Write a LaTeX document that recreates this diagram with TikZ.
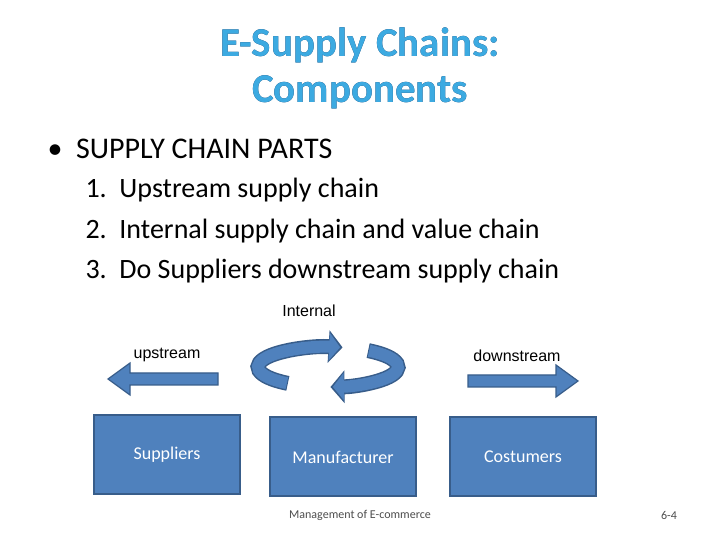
\documentclass[tikz,border=0pt]{standalone}
\usepackage{fontspec}
\setmainfont{Carlito}
\newfontfamily\arialfont{Liberation Sans}
\usepackage[outline]{contour}
\usetikzlibrary{positioning,arrows.meta}
\definecolor{boxblue}{RGB}{79,129,189}
\definecolor{boxline}{RGB}{56,93,138}
\definecolor{titleblue}{RGB}{60,170,225}
\definecolor{titleline}{RGB}{15,45,90}
\newcommand{\titletext}[1]{\contourlength{1.5pt}\fontsize{41}{48}\selectfont\bfseries\color{titleblue}\contour{titleline}{#1}}
\begin{document}
\begin{tikzpicture}
[x=1pt,y=1pt,
partbox/.style={rectangle, draw=boxline, line width=2pt, fill=boxblue, minimum width=146pt, minimum height=79pt, text=white, font=\fontsize{18}{21}\selectfont},
flowarrow/.style={draw=boxline, line width=1.2pt, fill=boxblue},
flowlabel/.style={font=\arialfont\fontsize{16}{18}\selectfont},
]
\useasboundingbox (0,0) rectangle (720,540);
% title
\node (title) at (360,495) {\titletext{E-Supply Chains:}};
\node (title2) at (360,448) {\titletext{Components}};
% bullet list
\node[anchor=west, font=\fontsize{30}{34}\selectfont] (parts) at (44,391) {\textbullet\ \ SUPPLY CHAIN PARTS};
\node[anchor=west, font=\fontsize{28}{32}\selectfont] (item1) at (82,350) {1.\ \ Upstream supply chain};
\node[anchor=west, font=\fontsize{28}{32}\selectfont] (item2) at (82,309) {2.\ \ Internal supply chain and value chain};
\node[anchor=west, font=\fontsize{28}{32}\selectfont] (item3) at (82,269) {3.\ \ Do Suppliers downstream supply chain};
% labels
\node[flowlabel] (internal) at (309,229) {Internal};
\node[flowlabel] (upstream) at (167,185) {upstream};
\node[flowlabel] (downstream) at (517,184) {downstream};
% flow arrows
\draw[flowarrow] (108,161) coordinate (uptip) -- (130,177) -- (130,167) -- (218,167) -- (218,155) -- (130,155) -- (130,145) -- cycle;
\draw[flowarrow] (578,159) coordinate (downtip) -- (556,175) -- (556,165) -- (468,165) -- (468,153) -- (556,153) -- (556,143) -- cycle;
% circular arrow
\coordinate (cyc) at (328,173);
\draw[boxline, line width=15pt, -{Triangle[length=14pt,width=32pt]}] ([shift={(235:70 and 20)}]cyc) arc[start angle=235, end angle=78, x radius=70, y radius=20];
\draw[boxblue, line width=12pt, -{Triangle[length=11pt,width=27pt]}] ([shift={(234:70 and 20)}]cyc) arc[start angle=234, end angle=80, x radius=70, y radius=20];
\draw[boxline, line width=15pt, -{Triangle[length=14pt,width=32pt]}] ([shift={(55:70 and 20)}]cyc) arc[start angle=55, end angle=-88, x radius=70, y radius=20];
\draw[boxblue, line width=12pt, -{Triangle[length=11pt,width=27pt]}] ([shift={(54:70 and 20)}]cyc) arc[start angle=54, end angle=-86, x radius=70, y radius=20];
% boxes
\node[partbox] (suppliers) at (167,85) {Suppliers};
\node[partbox] (manufacturer) at (343,83) {Manufacturer};
\node[partbox] (costumers) at (523,83) {Costumers};
% footer
\node[font=\fontsize{12}{14}\selectfont, text=black!70] (footer) at (360,25) {Management of E-commerce};
\node[font=\fontsize{12}{14}\selectfont, text=black!70] (page) at (669,25) {6-4};
\end{tikzpicture}
\end{document}
